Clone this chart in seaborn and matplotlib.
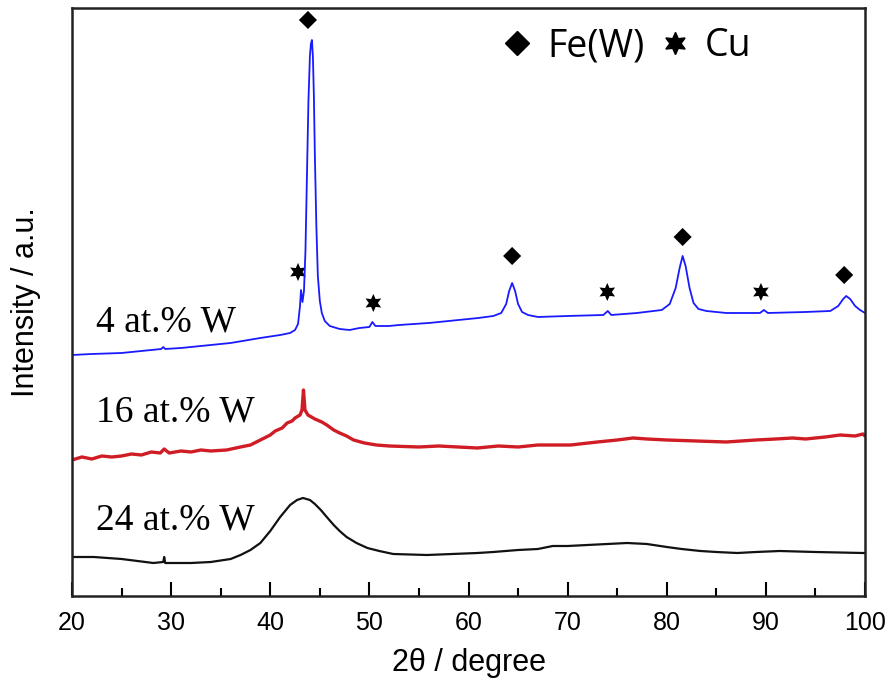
import matplotlib
matplotlib.use("Agg")
import matplotlib.pyplot as plt
from matplotlib.lines import Line2D
from matplotlib.ticker import MultipleLocator
import seaborn as sns
import pandas as pd

# XRD patterns (2theta in degree, intensity in a.u.)
w4_x = [20, 22, 25, 27, 29.0, 29.2, 29.4, 31, 33, 36, 39, 41, 42, 42.5, 42.8, 43.0, 43.1, 43.25,
        43.4, 43.55, 43.7, 43.85, 44.0, 44.1, 44.2, 44.3, 44.4, 44.5, 44.65, 44.8, 45.0, 45.2,
        45.5, 46, 47, 48, 49, 50.0, 50.3, 50.6, 52, 53, 56, 59, 61, 62.5, 63.3, 63.8, 64.1,
        64.4, 64.7, 65.0, 65.4, 66, 67, 70, 73.6, 74.05, 74.4, 77, 79.5, 80.3, 80.9, 81.3,
        81.6, 81.9, 82.3, 82.7, 83.2, 84, 86, 89.4, 89.8, 90.2, 94, 96.5, 97.3, 97.8, 98.1,
        98.5, 99.0, 99.5, 100]
w4_y = [241, 242, 243, 245, 247, 249, 247, 248, 250, 253, 258, 261, 263, 266, 272, 290, 306, 294,
        305, 345, 420, 495, 540, 552, 556, 540, 500, 440, 370, 320, 295, 283,
        275, 270, 267, 266, 268, 269, 274, 270, 270, 271, 273, 276, 278, 280, 283, 292, 305,
        313, 305, 292, 284, 281, 279, 280, 281, 285, 281, 283, 286, 292, 308, 328,
        340, 330, 308, 293, 287, 285, 283, 283, 286, 283, 284, 285, 290, 297, 300,
        297, 290, 286, 283]

w16_x = [20, 21, 22, 23, 24, 25, 26, 27, 28, 28.9, 29.3, 29.8, 31, 32, 33, 34, 35.6, 37, 38,
         39, 40, 40.5, 41.2, 41.7, 42.2, 42.5, 43.0, 43.2, 43.35, 43.5, 43.8, 44.5, 45.2, 45.7,
         46.4, 47, 47.7, 48.4, 49.5, 50.7, 52, 55, 57, 60.9, 63, 65, 67, 70.3, 73, 75, 76.6,
         78, 80, 83, 86, 89, 91, 92.7, 94, 96, 97.5, 99, 99.8, 100]
w16_y = [136, 139, 137, 140, 139, 140, 142, 141, 144, 143, 147, 143, 145, 144, 146, 145, 146, 149, 151,
         156, 161, 165, 168, 173, 175, 178, 181, 186, 206, 186, 181, 177, 174, 171,
         166, 163, 160, 156, 153, 151, 150, 149, 150, 148, 150, 149, 151, 151, 154, 156, 158,
         157, 156, 155, 154, 156, 157, 158, 157, 159, 161, 160, 162, 160]

w24_x = [20, 22.2, 25, 28.2, 29.2, 29.3, 29.4, 32, 34, 36, 37, 38, 39, 40, 41, 42, 42.7, 43.3,
         44.0, 44.5, 45.1, 45.7, 46.4, 47, 47.7, 48.7, 49.8, 51, 52.4, 55.8, 60.9, 62.5, 65,
         67, 68.5, 70, 72, 74, 76, 78, 80, 81.5, 83.4, 85, 87.1, 89, 91.4, 95, 99.8, 100]
w24_y = [39, 39, 37, 33, 34, 39, 33, 33, 34, 37, 41, 46, 53, 65, 79, 91, 96, 98,
         96, 92, 86, 79, 71, 65, 59, 53, 48, 45, 42, 41, 43, 44, 46,
         47, 50, 50, 51, 52, 53, 52, 49, 47, 45, 44, 43, 44, 45, 44, 43, 43]

samples = ["4 at.% W", "16 at.% W", "24 at.% W"]
colors = ["#1a1aff", "#d01c24", "#111111"]

# phase markers on the 4 at.% W pattern
fe_x = [43.8, 64.4, 81.6, 97.9]
fe_y = [576, 340, 359, 321]
cu_x = [42.8, 50.4, 74.0, 89.5]
cu_y = [324, 293, 304, 304]

df = pd.concat([
    pd.DataFrame({"two_theta": w4_x, "intensity": w4_y, "sample": samples[0]}),
    pd.DataFrame({"two_theta": w16_x, "intensity": w16_y, "sample": samples[1]}),
    pd.DataFrame({"two_theta": w24_x, "intensity": w24_y, "sample": samples[2]}),
])

sns.set_style("white")
plt.rcParams["text.color"] = "black"
plt.rcParams["xtick.color"] = "black"
plt.rcParams["axes.labelcolor"] = "black"

fig = plt.figure(figsize=(8.87, 6.82), dpi=100)
ax = fig.add_axes([0.0812, 0.1261, 0.894, 0.8622])

lws = [1.3, 2.4, 1.6]
for s, c, lw in zip(samples, colors, lws):
    sns.lineplot(data=df[df["sample"] == s], x="two_theta", y="intensity", color=c,
                 linewidth=lw, estimator=None, sort=False, ax=ax, legend=False)

star = (6, 1, 0)
sns.scatterplot(x=fe_x, y=fe_y, marker="D", s=85, color="black", edgecolor="none", ax=ax)
sns.scatterplot(x=cu_x, y=cu_y, marker=star, s=170, color="black", edgecolor="none", ax=ax)

# sample labels
label_y = [274, 184, 76]
for s, ly in zip(samples, label_y):
    ax.text(22.4, ly, s, fontsize=27, family="Liberation Serif", va="center", ha="left",
            color="black")

ax.set_xlim(20, 100)
ax.set_ylim(0, 588)
ax.xaxis.set_major_locator(MultipleLocator(10))
ax.xaxis.set_minor_locator(MultipleLocator(5))
ax.set_yticks([])
ax.tick_params(axis="x", which="major", direction="in", length=10, width=1.5,
               labelsize=18, pad=11, bottom=True, colors="black")
ax.tick_params(axis="x", which="minor", direction="in", length=6, width=1.5, bottom=True)
for lab in ax.get_xticklabels():
    lab.set_family("Liberation Sans")

for sp in ax.spines.values():
    sp.set_linewidth(1.8)
    sp.set_color("#222222")

ax.set_xlabel("2θ / degree", fontsize=22, family="Liberation Sans", labelpad=9)
ax.set_ylabel("Intensity / a.u.", fontsize=22, family="Liberation Sans", labelpad=22)

handles = [
    Line2D([], [], marker="D", color="black", linestyle="none", markersize=12),
    Line2D([], [], marker=star, color="black", linestyle="none", markersize=16),
]
leg = ax.legend(handles, ["Fe(W)", "Cu"], ncol=2, frameon=False, loc="upper left",
                bbox_to_anchor=(0.5, 1.025), handlelength=0.8, handletextpad=0.4,
                columnspacing=0.4, prop={"family": "Open Sans", "size": 27})

fig.savefig("out.png", dpi=100)
